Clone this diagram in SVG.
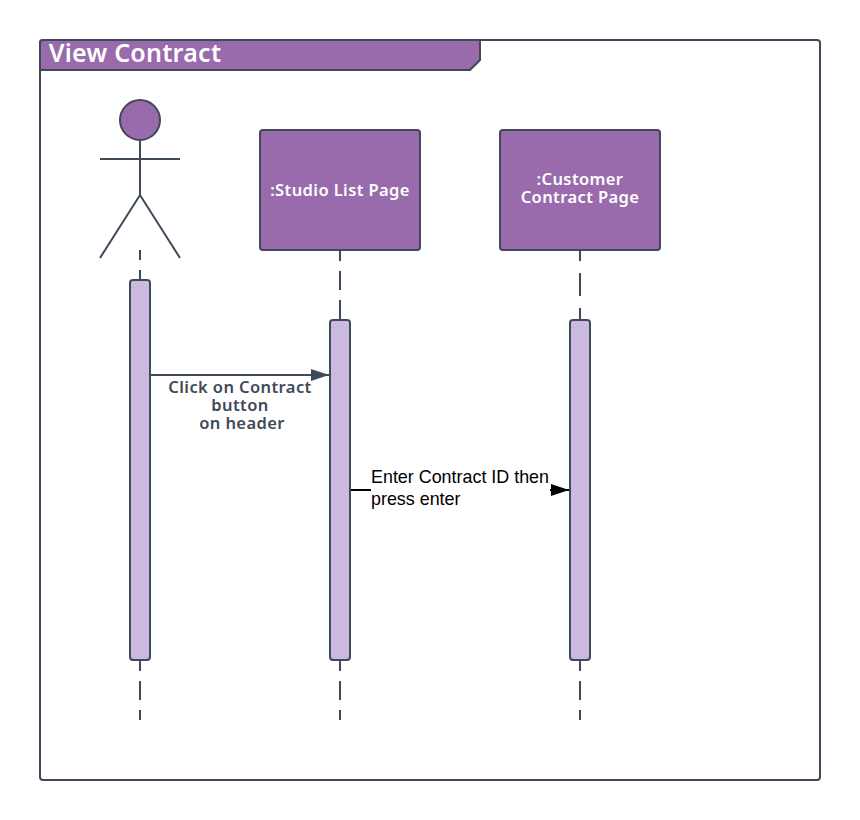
<svg xmlns="http://www.w3.org/2000/svg" width="860" height="820" viewBox="0 0 860 820">
<style>
.ln{fill:none;stroke:#3f4a59;stroke-width:2}
.box{fill:#996bad;stroke:#3f4a59;stroke-width:2}
.act{fill:#cbbadd;stroke:#3f4a59;stroke-width:2}
text{font-family:"Noto Sans","Liberation Sans",sans-serif;font-weight:600;text-anchor:middle;letter-spacing:.4px}
.w{fill:#fff;font-size:16.5px}
.d{fill:#3f4a59;font-size:16.5px}
.b{fill:#000;font-family:"Liberation Sans",Arial,sans-serif;font-weight:400;font-size:17.9px;text-anchor:start;letter-spacing:0}
</style>
<defs>
<marker id="a1" markerUnits="userSpaceOnUse" markerWidth="20" markerHeight="12" refX="18" refY="6" orient="auto"><path d="M0 0L18 6L0 12Z" fill="#3f4a59"/></marker>
<marker id="a2" markerUnits="userSpaceOnUse" markerWidth="20" markerHeight="12" refX="18" refY="6" orient="auto"><path d="M0 0L18 6L0 12Z" fill="#000"/></marker>
</defs>
<g id="frame">
<rect x="40" y="40" width="780" height="740" rx="3" fill="#fff" stroke="#3f4a59" stroke-width="2"/>
<path d="M40 43a3 3 0 0 1 3-3H480V60L470 70H40Z" class="box"/>
<text x="135" y="62" class="w" style="font-size:25px;letter-spacing:.25px">View Contract</text>
</g>
<g id="connectors">
<path d="M140 250V260M140 270V280M140 660V671M140 681V700M140 710V720" class="ln"/>
<path d="M340 250V261M340 271V290M340 300V320M340 660V671M340 681V700M340 710V720" class="ln"/>
<path d="M580 250V261M580 273V296M580 308V320M580 660V671M580 681V700M580 710V720" class="ln"/>
<path d="M150 375H329" class="ln" marker-end="url(#a1)"/>
<path d="M350 490H371M550 490H569" fill="none" stroke="#000" stroke-width="2" marker-end="url(#a2)"/>
</g>
<g id="actor">
<circle cx="140" cy="120" r="20" class="box"/>
<path d="M140 140V195M100 159H180M100 258L140 195L180 258" class="ln"/>
</g>
<g id="studio">
<rect x="260" y="130" width="160" height="120" rx="3" class="box"/>
<text x="340" y="196" class="w">:Studio List Page</text>
</g>
<g id="customer">
<rect x="500" y="130" width="160" height="120" rx="3" class="box"/>
<text x="580" y="185" class="w">:Customer</text>
<text x="580" y="203" class="w">Contract Page</text>
</g>
<g id="act1"><rect x="130" y="280" width="20" height="380" rx="3" class="act"/></g>
<g id="act2"><rect x="330" y="320" width="20" height="340" rx="3" class="act"/></g>
<g id="act3"><rect x="570" y="320" width="20" height="340" rx="3" class="act"/></g>
<g id="labels">
<text x="240" y="393" class="d">Click on Contract</text>
<text x="240" y="411" class="d">button</text>
<text x="242" y="429" class="d">on header</text>
<text x="371" y="483" class="b">Enter Contract ID then</text>
<text x="371" y="505" class="b">press enter</text>
</g>
</svg>
